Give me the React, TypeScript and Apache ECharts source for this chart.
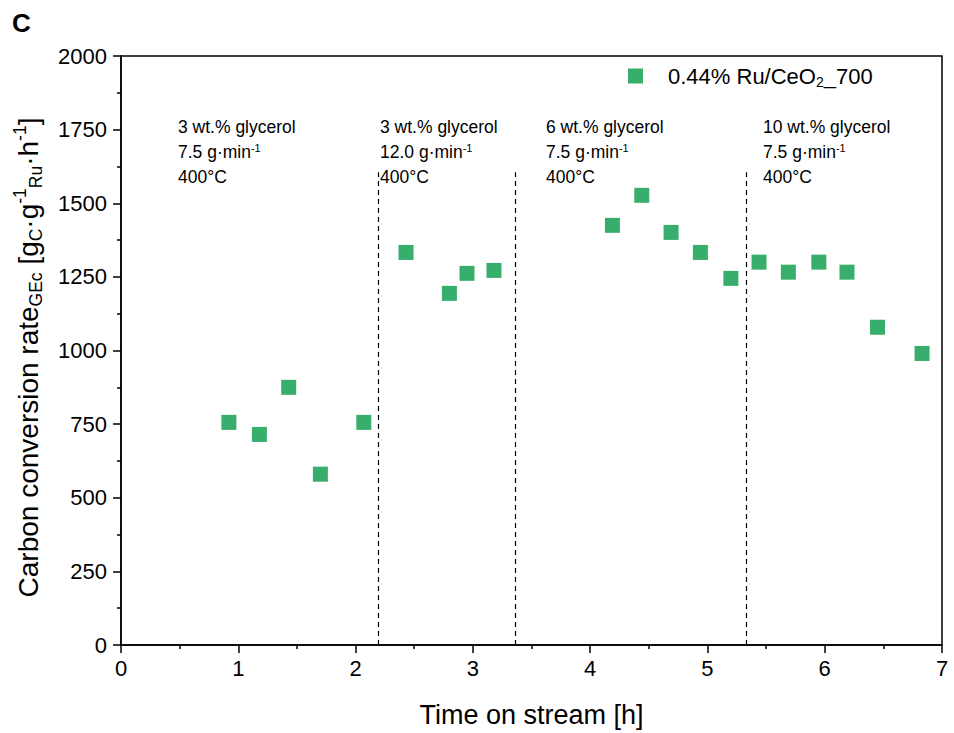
import React, { useEffect, useRef } from "react";
import * as echarts from "echarts";

const FONT = '"Liberation Sans", Arial, Helvetica, sans-serif';

// Data
const times = [0.92, 1.18, 1.43, 1.70, 2.07, 2.43, 2.80, 2.95, 3.18, 4.19, 4.44, 4.69, 4.94, 5.20, 5.44, 5.69, 5.95, 6.19, 6.45, 6.83];
const rates = [756, 715, 875, 580, 756, 1333, 1194, 1262, 1272, 1425, 1527, 1401, 1333, 1245, 1300, 1266, 1300, 1266, 1079, 990];

const dividerTimes = [2.19, 3.36, 5.33];
const dividerTop = 1605;

const condLoad = ["3 wt.% glycerol", "3 wt.% glycerol", "6 wt.% glycerol", "10 wt.% glycerol"];
const condFlow = ["7.5", "12.0", "7.5", "7.5"];
const condTemp = ["400°C", "400°C", "400°C", "400°C"];
const condX = [178, 380, 546, 763];

const seriesName = "0.44% Ru/CeO2_700";

const xTicks = { min: 0, max: 7, interval: 1 };
const yTicks = { min: 0, max: 2000, interval: 250 };

const GREEN = "#37ae6b";

function buildOption() {
  const annot: any[] = [];
  condX.forEach((x, i) => {
    annot.push({
      type: "text",
      x,
      y: 127,
      style: { text: condLoad[i], fontSize: 17.5, fontFamily: FONT, fill: "#000", verticalAlign: "middle" },
    });
    annot.push({
      type: "text",
      x,
      y: 152,
      style: {
        text: `{a|${condFlow[i]} g·min}{s|-1}`,
        fontFamily: FONT,
        fill: "#000",
        verticalAlign: "middle",
        rich: {
          a: { fontSize: 17.5, lineHeight: 20, fontFamily: FONT, fill: "#000" },
          s: { fontSize: 11, lineHeight: 12, fontFamily: FONT, fill: "#000", verticalAlign: "top" },
        },
      },
    });
    annot.push({
      type: "text",
      x,
      y: 177,
      style: { text: condTemp[i], fontSize: 17.5, fontFamily: FONT, fill: "#000", verticalAlign: "middle" },
    });
  });

  return {
    animation: false,
    backgroundColor: "#fff",
    grid: {
      left: 121,
      right: 12,
      top: 56,
      bottom: 88,
      show: true,
      borderColor: "#000",
      borderWidth: 1.5,
      backgroundColor: "transparent",
    },
    legend: {
      left: 623,
      top: 60,
      icon: "rect",
      itemWidth: 15,
      itemHeight: 15,
      data: [seriesName],
      formatter: () => "{a|0.44% Ru/CeO}{b|2}{c|_700}",
      textStyle: {
        fontFamily: FONT,
        color: "#000",
        rich: {
          a: { fontSize: 22, fontFamily: FONT, color: "#000", padding: [0, 0, 0, 20], lineHeight: 26 },
          b: { fontSize: 14, fontFamily: FONT, color: "#000", verticalAlign: "bottom", lineHeight: 14 },
          c: { fontSize: 22, fontFamily: FONT, color: "#000", lineHeight: 26 },
        },
      },
    },
    xAxis: {
      type: "value",
      min: xTicks.min,
      max: xTicks.max,
      interval: xTicks.interval,
      name: "Time on stream [h]",
      nameLocation: "middle",
      nameGap: 56,
      nameTextStyle: { fontSize: 27, fontFamily: FONT, color: "#000" },
      axisLine: { show: true, lineStyle: { color: "#000", width: 1.5 } },
      axisTick: { show: true, length: 8, inside: false, lineStyle: { color: "#000", width: 1.5 } },
      minorTick: { show: true, splitNumber: 2, length: 4, lineStyle: { color: "#000", width: 1.5 } },
      axisLabel: { fontSize: 22, fontFamily: FONT, color: "#000", margin: 12, formatter: (v: number) => String(v) },
      splitLine: { show: false },
    },
    yAxis: {
      type: "value",
      min: yTicks.min,
      max: yTicks.max,
      interval: yTicks.interval,
      name: "{a|Carbon conversion rate}{sub|GEc}{a| [g}{sub|C}{a|·g}{sup|-1}{sub|Ru}{a|·h}{sup|-1}{a|]}",
      nameLocation: "middle",
      nameGap: 76,
      nameTextStyle: {
        fontFamily: FONT,
        color: "#000",
        padding: [0, 14, 0, 0],
        rich: {
          a: { fontSize: 28, fontFamily: FONT, color: "#000", lineHeight: 34 },
          sub: { fontSize: 17.5, fontFamily: FONT, color: "#000", verticalAlign: "bottom", lineHeight: 17 },
          sup: { fontSize: 17.5, fontFamily: FONT, color: "#000", verticalAlign: "top", lineHeight: 17 },
        },
      },
      axisLine: { show: true, lineStyle: { color: "#000", width: 1.5 } },
      axisTick: { show: true, length: 8, inside: false, lineStyle: { color: "#000", width: 1.5 } },
      minorTick: { show: true, splitNumber: 2, length: 4, lineStyle: { color: "#000", width: 1.5 } },
      axisLabel: { fontSize: 22, fontFamily: FONT, color: "#000", margin: 14, formatter: (v: number) => String(v) },
      splitLine: { show: false },
    },
    series: [
      {
        name: seriesName,
        type: "scatter",
        symbol: "rect",
        symbolSize: 15,
        itemStyle: { color: GREEN, opacity: 1 },
        data: times.map((t, i) => [t, rates[i]]),
        markLine: {
          silent: true,
          symbol: ["none", "none"],
          label: { show: false },
          lineStyle: { color: "#000", width: 1.2, type: [5, 4] },
          data: dividerTimes.map((t) => [{ coord: [t, 0] }, { coord: [t, dividerTop] }]),
        },
      },
    ],
    graphic: [
      {
        type: "text",
        x: 12,
        y: 23,
        style: { text: "C", fontSize: 26, fontWeight: "bold", fontFamily: FONT, fill: "#000", verticalAlign: "middle" },
      },
      ...annot,
    ],
  };
}

export default function App() {
  const ref = useRef<HTMLDivElement>(null);
  useEffect(() => {
    document.body.style.margin = "0";
    const chart = echarts.init(ref.current as HTMLDivElement, null, { renderer: "svg" });
    chart.setOption(buildOption() as any);
    return () => chart.dispose();
  }, []);
  return <div ref={ref} style={{ width: 954, height: 733 }} />;
}
